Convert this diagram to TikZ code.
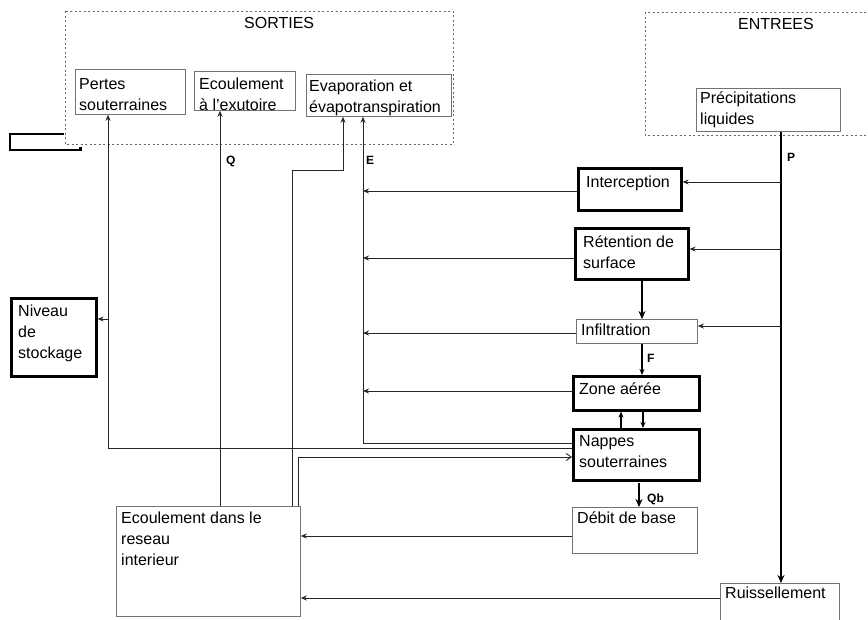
\documentclass[tikz,border=0pt]{standalone}
\usepackage{fontspec}
\setmainfont{Liberation Sans}
\usetikzlibrary{arrows.meta}
\begin{document}
\begin{tikzpicture}[x=1pt,y=-1pt,
  thinbox/.style={draw=black!55, line width=0.8pt, anchor=north west, inner sep=0pt},
  thickbox/.style={draw=black, line width=2.6pt, anchor=north west, inner sep=0pt},
  zone/.style={draw=black!60, line width=0.9pt, dash pattern=on 2pt off 2.5pt},
  txt/.style={anchor=north west, inner sep=0pt, align=left, font=\fontsize{16}{21}\selectfont},
  lbl/.style={anchor=north west, inner sep=0pt, font=\fontsize{12}{14}\selectfont\bfseries},
  conn/.style={draw=black!85, line width=0.9pt},
  arr/.style={conn, -{Stealth[length=6pt,width=5pt]}},
  medarr/.style={draw=black, line width=1.6pt, -{Stealth[length=6pt,width=5pt]}},
  thickarr/.style={draw=black, line width=2.4pt, -{Stealth[length=8pt,width=7pt]}},
]
\useasboundingbox (0,0) rectangle (868,619);
\clip (0,0) rectangle (868,619);

% dashed zones
\draw[zone] (65,11) rectangle (453,144);
\draw[zone] (645,12) rectangle (880,135);
\node[txt] (sorties) at (244,17) {SORTIES};
\node[txt] (entrees) at (738,18) {ENTREES};

% boxes
\node[thinbox, minimum width=110pt, minimum height=45pt] (pertes) at (75,69) {};
\node[thinbox, minimum width=101pt, minimum height=39pt] (exut) at (194,71) {};
\node[thinbox, minimum width=145pt, minimum height=42pt] (evap) at (306,74) {};
\node[thinbox, minimum width=144pt, minimum height=43pt] (precip) at (696,88) {};
\node[thickbox, minimum width=103pt, minimum height=42pt] (interc) at (577,167) {};
\node[thickbox, minimum width=113pt, minimum height=51pt] (retn) at (574,227) {};
\node[thinbox, minimum width=121pt, minimum height=24pt] (infil) at (576,319) {};
\node[thickbox, minimum width=126pt, minimum height=34pt] (zonea) at (572,375) {};
\node[thickbox, minimum width=126pt, minimum height=51pt] (nappes) at (572,428) {};
\node[thinbox, minimum width=125pt, minimum height=46pt] (debit) at (572,507) {};
\node[thinbox, minimum width=119pt, minimum height=60pt] (ruiss) at (720,583) {};
\node[thinbox, minimum width=184pt, minimum height=110pt] (reseau) at (116,506) {};
\node[thickbox, minimum width=85pt, minimum height=78pt] (niveau) at (10,297) {};

% texts
\node[txt] (pertes-t) at (79,78) {Pertes\\souterraines};
\node[txt] (exut-t) at (199,78) {Ecoulement\\à l’exutoire};
\node[txt] (evap-t) at (309,80) {Evaporation et\\évapotranspiration};
\node[txt] (precip-t) at (700,92) {Précipitations\\liquides};
\node[txt] (interc-t) at (586,176) {Interception};
\node[txt] (retn-t) at (583,236) {Rétention de\\surface};
\node[txt] (infil-t) at (581,324) {Infiltration};
\node[txt] (zonea-t) at (579,383) {Zone aérée};
\node[txt] (nappes-t) at (579,435) {Nappes\\souterraines};
\node[txt] (debit-t) at (577,512) {Débit de base};
\node[txt] (ruiss-t) at (725,587) {Ruissellement};
\node[txt] (reseau-t) at (121,512) {Ecoulement dans le\\reseau\\interieur};
\node[txt] (niveau-t) at (18,305) {Niveau\\de\\stockage};

% labels
\node[lbl] (lQ) at (226,156) {Q};
\node[lbl] (lE) at (366,156) {E};
\node[lbl] (lP) at (787,153) {P};
\node[lbl] (lF) at (647,354) {F};
\node[lbl] (lQb) at (647,494) {Qb};

% small open rectangle at left
\draw[black, line width=1.3pt] (64,134) -- (10,134) -- (10,150) -- (80,150);
\fill[black] (79,147) rectangle (82,151);

% helper coordinates
\coordinate (xP) at (781,0);
\coordinate (xE) at (363,0);
\coordinate (xPert) at (108,0);
\coordinate (xQ) at (220,0);
\coordinate (xEv) at (292,0);
\coordinate (xEvb) at (343,0);
\coordinate (xN) at (298,0);
\coordinate (xR) at (642,0);
\coordinate (xZup) at (621,0);
\coordinate (xZdn) at (643,0);
\coordinate (qbs) at (639,483);
\coordinate (y1) at (0,182);
\coordinate (y2) at (0,249);
\coordinate (y3) at (0,326);
\coordinate (e1) at (0,191);
\coordinate (e2) at (0,258);
\coordinate (e3) at (0,333);
\coordinate (e4) at (0,391);
\coordinate (n1) at (0,443);
\coordinate (n2) at (0,448);
\coordinate (n3) at (0,457);
\coordinate (yNiv) at (0,319);
\coordinate (yEv) at (0,170);
\coordinate (yDeb) at (0,536);
\coordinate (yRu) at (0,598);

% connectors
\draw[thickarr] (precip.south -| xP) -- (ruiss.north -| xP);
\draw[arr] (xP |- y1) -- (interc.east |- y1);
\draw[arr] (xP |- y2) -- (retn.east |- y2);
\draw[arr] (xP |- y3) -- (infil.east |- y3);
\draw[arr] (interc.west |- e1) -- (xE |- e1);
\draw[arr] (retn.west |- e2) -- (xE |- e2);
\draw[arr] (infil.west |- e3) -- (xE |- e3);
\draw[arr] (zonea.west |- e4) -- (xE |- e4);
\draw[arr] (nappes.west |- n1) -- (xE |- n1) -- (evap.south -| xE);
\draw[arr] (nappes.west |- n2) -- (xPert |- n2) -- (pertes.south -| xPert);
\draw[arr] (xPert |- yNiv) -- (niveau.east |- yNiv);
\draw[arr] (reseau.north -| xQ) -- (exut.south -| xQ);
\draw[arr] (reseau.north -| xEv) -- (xEv |- yEv) -- (xEvb |- yEv) -- (evap.south -| xEvb);
\draw[conn, -{Straight Barb[length=5pt,width=7pt]}] (reseau.north -| xN) -- (xN |- n3) -- (nappes.west |- n3);
\draw[arr] (debit.west |- yDeb) -- (reseau.east |- yDeb);
\draw[arr] (ruiss.west |- yRu) -- (reseau.east |- yRu);
\draw[thickarr] (retn.south -| xR) -- (infil.north -| xR);
\draw[medarr] (infil.south -| xR) -- (zonea.north -| xR);
\draw[medarr] (nappes.north -| xZup) -- (zonea.south -| xZup);
\draw[medarr] (zonea.south -| xZdn) -- (nappes.north -| xZdn);
\draw[thickarr] (qbs) -- (debit.north -| qbs);
\end{tikzpicture}
\end{document}
